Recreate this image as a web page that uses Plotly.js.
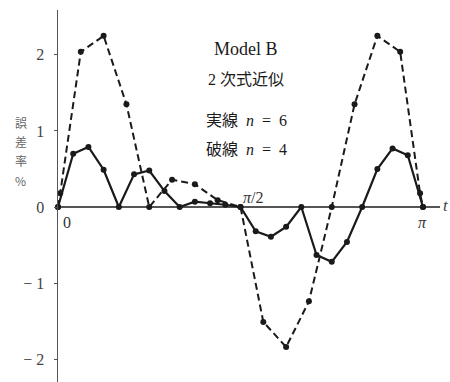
<!DOCTYPE html>
<html>
<head>
<meta charset="utf-8">
<script src="https://cdn.plot.ly/plotly-3.0.1.min.js"></script>
<style>html,body{margin:0;padding:0;background:#fff;}#chart{width:450px;height:382px;}</style>
</head>
<body>
<div id="chart"></div>
<script>
// Sample positions, in units of pi
const tPi_n6 = [0,1/24,2/24,3/24,4/24,5/24,6/24,7/24,8/24,9/24,10/24,11/24,12/24,13/24,14/24,15/24,16/24,17/24,18/24,19/24,20/24,21/24,22/24,23/24,1];
const err_n6 = [0,0.70,0.79,0.49,0,0.43,0.48,0.21,0,0.07,0.05,0.03,0,-0.32,-0.39,-0.26,0,-0.63,-0.72,-0.46,0,0.50,0.77,0.68,0];

const tPi_n4 = [0,0.006,1/16,2/16,3/16,4/16,5/16,6/16,7/16,8/16,9/16,10/16,11/16,12/16,13/16,14/16,15/16,0.992,1];
const err_n4 = [0,0.18,2.04,2.25,1.35,0,0.36,0.30,0.09,0,-1.51,-1.84,-1.24,0,1.35,2.25,2.04,0.18,0];

const yTickVals = [-2,-1,0,1,2];
const yTickText = ['− 2','− 1','0','1','2'];

const PI = Math.PI;
const serif = '"Liberation Serif", "DejaVu Serif", serif';
const cjk = '"Liberation Serif", "Noto Sans CJK JP", serif';
const ink = '#1a1a1a';

const traces = [
  {x: tPi_n6.map(v=>v*PI), y: err_n6, mode:'lines+markers', type:'scatter',
   line:{color:ink, width:2.2}, marker:{color:ink, size:6}, showlegend:false, cliponaxis:false},
  {x: tPi_n4.map(v=>v*PI), y: err_n4, mode:'lines+markers', type:'scatter',
   line:{color:ink, width:2, dash:'7px,4px'}, marker:{color:ink, size:6}, showlegend:false, cliponaxis:false}
];

const ylab = ['誤','差','率','%'];
const ylabY = [1.105,0.862,0.618,0.355];
const annotations = ylab.map((c,i)=>({xref:'paper', yref:'y', x:-0.118, y:ylabY[i], text:c, showarrow:false,
  font:{family:'"Noto Sans CJK JP", sans-serif', size:12, color:'#666'}}));

annotations.push(
  {xref:'x', yref:'y', x:1.62, y:2.08, text:'Model B', showarrow:false, font:{family:serif, size:18, color:ink}},
  {xref:'x', yref:'y', x:1.62, y:1.67, text:'2 次式近似', showarrow:false, font:{family:cjk, size:16, color:ink}},
  {xref:'x', yref:'y', x:1.62, y:1.14, text:'実線  <i>n</i>  =  6', showarrow:false, font:{family:cjk, size:16, color:ink}},
  {xref:'x', yref:'y', x:1.62, y:0.75, text:'破線  <i>n</i>  =  4', showarrow:false, font:{family:cjk, size:16, color:ink}},
  {xref:'x', yref:'y', x:0.08, y:-0.2, text:'0', showarrow:false, font:{family:serif, size:16, color:'#333'}},
  {xref:'x', yref:'y', x:PI, y:-0.2, text:'<i>π</i>', showarrow:false, font:{family:serif, size:16, color:'#333'}},
  {xref:'x', yref:'y', x:1.68, y:0.13, text:'<i>π</i>/2', showarrow:false, font:{family:serif, size:16, color:'#333'}},
  {xref:'paper', yref:'y', x:1.015, y:0.02, xanchor:'center', text:'<i>t</i>', showarrow:false, font:{family:serif, size:17, color:'#444'}}
);

const layout = {
  width:450, height:382,
  margin:{l:58, r:10, t:10, b:0},
  paper_bgcolor:'#fff', plot_bgcolor:'#fff',
  xaxis:{range:[0, 3.288], showgrid:false, zeroline:false, showline:false, showticklabels:false, ticks:''},
  yaxis:{range:[-2.30, 2.59], showgrid:false, zeroline:true, zerolinecolor:'#555', zerolinewidth:1.5,
    showline:true, linecolor:'#555', linewidth:1.5, ticks:'outside', ticklen:3, tickcolor:'#555',
    tickvals:yTickVals, ticktext:yTickText, ticklabelstandoff:6,
    tickfont:{family:serif, size:16, color:'#444'}},
  annotations: annotations
};

Plotly.newPlot('chart', traces, layout, {displayModeBar:false, staticPlot:true});
</script>
</body>
</html>
